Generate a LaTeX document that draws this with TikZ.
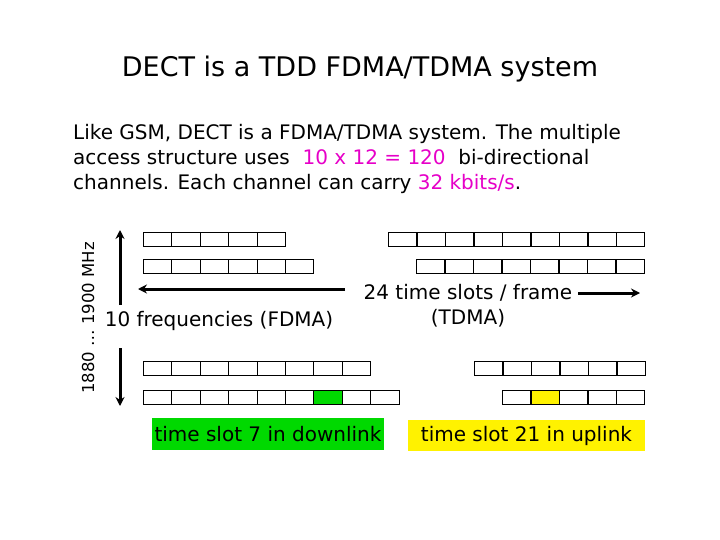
\documentclass[tikz,border=0pt]{standalone}
\usepackage{fontspec}
\setmainfont{DejaVu Sans}
\usetikzlibrary{arrows.meta}
\begin{document}
\begin{tikzpicture}[x=1pt,y=-1pt,
  cell/.style={draw=black,line width=0.9pt,minimum width=28.4pt,minimum height=14pt,inner sep=0pt,anchor=north west},
  txt/.style={inner sep=0pt,font=\fontsize{20}{24}\selectfont},
  arr/.style={line width=3pt,-{Stealth[length=9pt,width=9pt]}}]
\useasboundingbox (0,0) rectangle (720,540);
\definecolor{mag}{RGB}{230,0,200}
\node[inner sep=0pt,font=\fontsize{27}{30}\selectfont] (title) at (360,69) {DECT is a TDD FDMA/TDMA system};
\node[inner sep=0pt,anchor=north west,align=left,font=\fontsize{20}{25}\selectfont] (body) at (73,124)
 {Like GSM, DECT is a FDMA/TDMA system. The multiple\\access structure uses \ \textcolor{mag}{10 x 12 = 120}\ \ bi-directional\\channels. Each channel can carry \textcolor{mag}{32 kbits/s}.};
\node[txt,rotate=90,font=\fontsize{16.5}{18}\selectfont] (mhz) at (88,318) {1880 … 1900 MHz};
% left rows
\foreach \i in {0,...,4} \node[cell] (a\i) at (143+28.4*\i,232) {};
\foreach \i in {0,...,5} \node[cell] (b\i) at (143+28.4*\i,259) {};
\foreach \i in {0,...,7} \node[cell] (c\i) at (143+28.4*\i,361) {};
\foreach \i in {0,...,8} \node[cell] (d\i) at (143+28.4*\i,390) {};
\node[cell,fill=green!85!black] (dg) at (143+28.4*6,390) {};
% right rows
\foreach \i in {0,...,8} \node[cell] (e\i) at (388+28.5*\i,232) {};
\foreach \i in {0,...,7} \node[cell] (f\i) at (416+28.5*\i,259) {};
\foreach \i in {0,...,5} \node[cell] (g\i) at (474+28.5*\i,361) {};
\foreach \i in {0,...,4} \node[cell] (h\i) at (502+28.5*\i,390) {};
\node[cell,fill=yellow] (hy) at (530.5,390) {};
% arrows
\coordinate (vt) at (120,230); \coordinate (vb1) at (120,305);
\coordinate (vb) at (120,406); \coordinate (vt2) at (120,348);
\draw[arr] (vb1) -- (vt);
\draw[arr] (vt2) -- (vb);
\coordinate (hl1) at (345,289); \coordinate (hl2) at (138,289);
\draw[arr] (hl1) -- (hl2);
\coordinate (hr1) at (578,293); \coordinate (hr2) at (640,293);
\draw[arr] (hr1) -- (hr2);
\node[txt] (freq) at (219,321) {10 frequencies (FDMA)};
\node[txt,align=center,font=\fontsize{20}{25}\selectfont] (ts) at (468,306) {24 time slots / frame\\(TDMA)};
\node[txt,fill=green!85!black,minimum width=232pt,minimum height=32pt] (gl) at (268,434) {time slot 7 in downlink};
\node[txt,fill=yellow,minimum width=237pt,minimum height=31pt] (yl) at (526.5,435.5) {time slot 21 in uplink};
\end{tikzpicture}
\end{document}
